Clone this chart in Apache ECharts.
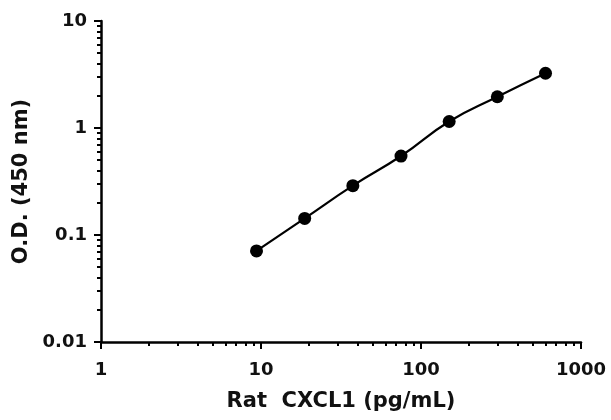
<!DOCTYPE html>
<html>
<head>
<meta charset="utf-8">
<script src="https://cdn.jsdelivr.net/npm/echarts@6/dist/echarts.min.js"></script>
<style>
html, body { margin: 0; padding: 0; background: #fff; }
#chart { width: 611px; height: 420px; }
</style>
</head>
<body>
<div id="chart"></div>
<script>
var concentration = [9.375, 18.75, 37.5, 75, 150, 300, 600];
var od = [0.071, 0.143, 0.289, 0.547, 1.15, 1.96, 3.25];

var xMajor = [1, 10, 100, 1000];
var xMinor = [2, 3, 4, 5, 6, 7, 8, 9, 20, 30, 40, 50, 60, 70, 80, 90, 200, 300, 400, 500, 600, 700, 800, 900];
var yMajor = [0.01, 0.1, 1, 10];
var yMinor = [0.02, 0.03, 0.04, 0.05, 0.06, 0.07, 0.08, 0.09, 0.2, 0.3, 0.4, 0.5, 0.6, 0.7, 0.8, 0.9, 2, 3, 4, 5, 6, 7, 8, 9];

var font = 'DejaVu Sans';
var chart = echarts.init(document.getElementById('chart'));

var points = concentration.map(function (c, i) { return [c, od[i]]; });

function plain(v) { return String(+(+v).toPrecision(3)); }

option = {
    backgroundColor: '#fff',
    animation: false,
    grid: { left: 101, right: 30, top: 21, bottom: 78, containLabel: false },
    xAxis: [
        {
            type: 'log', min: 1, max: 1000, logBase: 10,
            name: 'Rat  CXCL1 (pg/mL)', nameLocation: 'middle', nameGap: 49,
            nameTextStyle: { fontFamily: font, fontWeight: 'bold', fontSize: 21, color: '#111' },
            axisLine: { lineStyle: { color: '#000', width: 2.5 } },
            axisTick: { inside: false, length: 7, lineStyle: { color: '#000', width: 2 }, customValues: xMajor },
            axisLabel: { customValues: xMajor, margin: 19, fontFamily: font, fontWeight: 'bold', fontSize: 18, color: '#111', formatter: plain },
            splitLine: { show: false }
        },
        {
            type: 'log', min: 1, max: 1000, logBase: 10, position: 'bottom',
            axisLine: { show: false },
            axisTick: { inside: false, length: 4, lineStyle: { color: '#000', width: 2 }, customValues: xMinor },
            axisLabel: { show: false },
            splitLine: { show: false }
        }
    ],
    yAxis: [
        {
            type: 'log', min: 0.01, max: 10, logBase: 10,
            name: 'O.D. (450 nm)', nameLocation: 'middle', nameGap: 64,
            nameTextStyle: { fontFamily: font, fontWeight: 'bold', fontSize: 21, color: '#111' },
            axisLine: { lineStyle: { color: '#000', width: 2.5 } },
            axisTick: { inside: false, length: 7, lineStyle: { color: '#000', width: 2 }, customValues: yMajor },
            axisLabel: { customValues: yMajor, margin: 14, fontFamily: font, fontWeight: 'bold', fontSize: 18, color: '#111', formatter: plain },
            splitLine: { show: false }
        },
        {
            type: 'log', min: 0.01, max: 10, logBase: 10, position: 'left',
            axisLine: { show: false },
            axisTick: { inside: false, length: 4, lineStyle: { color: '#000', width: 2 }, customValues: yMinor },
            axisLabel: { show: false },
            splitLine: { show: false }
        }
    ],
    series: [
        {
            type: 'line',
            data: points,
            smooth: 0.5,
            symbol: 'circle',
            symbolSize: 13,
            itemStyle: { color: '#000' },
            lineStyle: { color: '#000', width: 2.2 }
        }
    ]
};

chart.setOption(option);
</script>
</body>
</html>
